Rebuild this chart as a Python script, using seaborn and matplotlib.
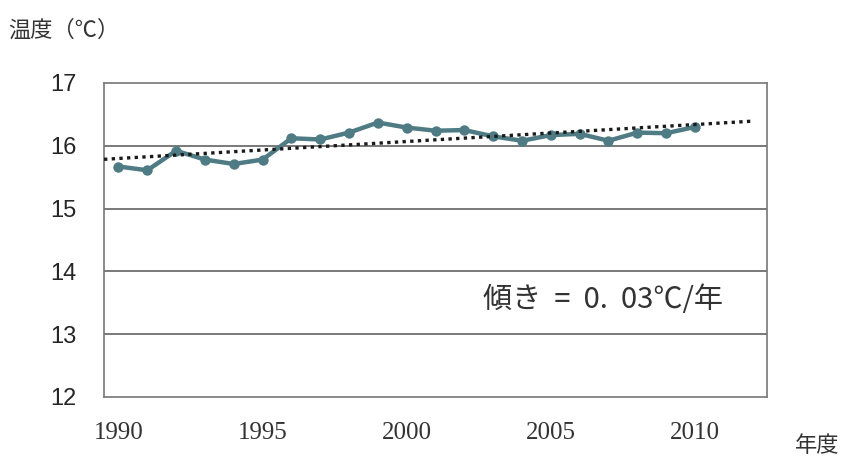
import numpy as np
import pandas as pd
import seaborn as sns
import matplotlib.pyplot as plt

years = list(range(1990, 2011))
temps = [15.67, 15.61, 15.92, 15.78, 15.71, 15.78, 16.12, 16.10, 16.21, 16.37, 16.29,
         16.24, 16.25, 16.15, 16.08, 16.17, 16.19, 16.08, 16.21, 16.20, 16.30]
yticks = [12, 13, 14, 15, 16, 17]
xtick_years = [1990, 1995, 2000, 2005, 2010]

sns.set_style('white')
jp = ['Noto Sans CJK JP', 'DejaVu Sans']

df = pd.DataFrame({'year': years, 'temp': temps})

# linear trend, drawn a bit past both ends like the spreadsheet trendline
coef = np.polyfit(df['year'], df['temp'], 1)
trend = pd.DataFrame({'year': [1989.5, 2012.0]})
trend['temp'] = np.polyval(coef, trend['year'])

fig = plt.figure(figsize=(8.5, 4.62), dpi=100)
ax = fig.add_axes([0.1224, 0.1407, 0.78, 0.6797])

for y in [13, 14, 15, 16]:
    ax.axhline(y, color='#555555', lw=1.1, zorder=1)

sns.lineplot(data=df, x='year', y='temp', color='#4f7c84', lw=3.2, marker='o',
             markersize=7.5, markeredgewidth=0, ax=ax, zorder=3)
sns.lineplot(data=trend, x='year', y='temp', color='#1a1a1a', lw=2.4,
             linestyle=(0, (1, 1.3)), ax=ax, zorder=4)

ax.set_xlim(1989.5, 2012.5)
ax.set_ylim(12, 17)
ax.set_yticks(yticks)
ax.set_yticklabels([str(v) for v in yticks], fontsize=17, family='Liberation Sans')
ax.tick_params(axis='y', length=0, pad=20)
ax.set_xticks(xtick_years)
ax.set_xticklabels([str(v) for v in xtick_years], fontsize=18, family='Liberation Serif',
                   color='#333333')
ax.tick_params(axis='x', length=0, pad=18)
ax.set_xticks([v - 0.5 for v in xtick_years[1:]], minor=True)
ax.tick_params(axis='x', which='minor', direction='in', length=7, color='#777777', width=1)
ax.set_xlabel('')
ax.set_ylabel('')

for s in ax.spines.values():
    s.set_color('#777777')
    s.set_linewidth(1.2)

fig.text(0.010, 0.935, '温度（℃）', fontsize=16, family=jp, color='#333333', va='center')
fig.text(0.935, 0.035, '年度', fontsize=16, family=jp, color='#333333', va='center')
ax.text(2006.8, 13.55, '傾き  =  0.  03℃/年', fontsize=21, family=jp, color='#333333',
        ha='center', va='center')

fig.savefig('out.png', dpi=100)
